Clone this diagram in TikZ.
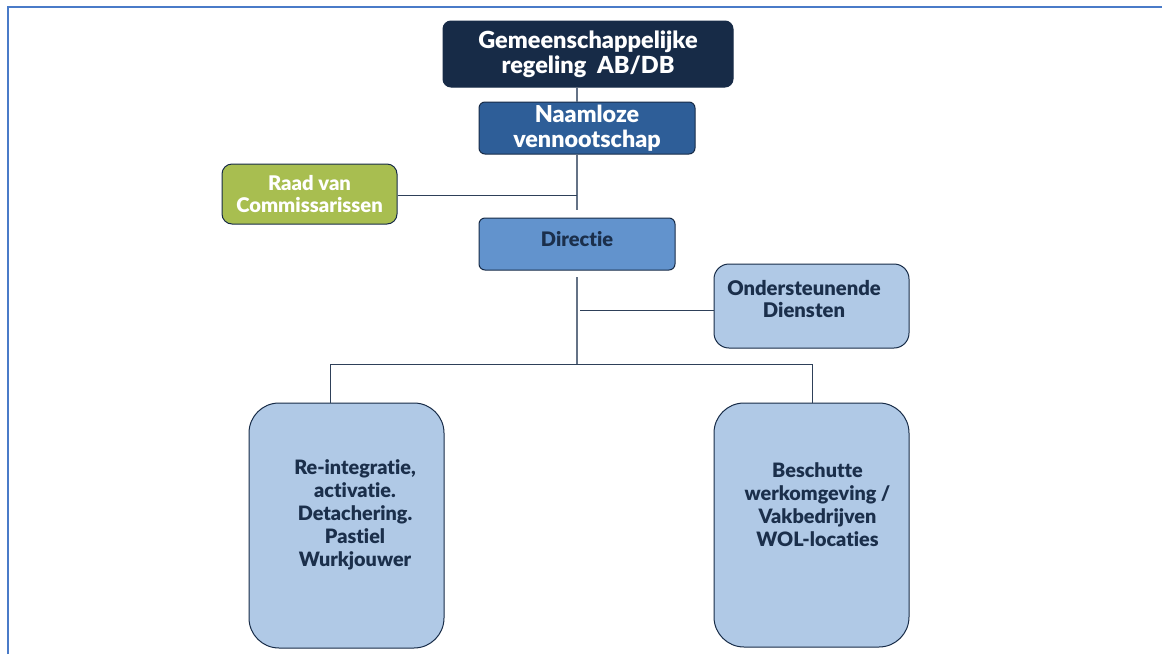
\documentclass[tikz,border=0pt]{standalone}
\usepackage{fontspec}
\setmainfont{Lato}[UprightFont=* Black,Ligatures={NoCommon}]
\usetikzlibrary{positioning}

\definecolor{navy}{RGB}{23,43,71}
\definecolor{midblue}{RGB}{46,94,152}
\definecolor{dirblue}{RGB}{98,147,205}
\definecolor{lightblue}{RGB}{176,201,230}
\definecolor{rvcgreen}{RGB}{168,190,80}
\definecolor{txtnavy}{RGB}{27,47,75}
\definecolor{framblue}{RGB}{74,123,200}
\definecolor{linegray}{RGB}{100,114,134}

\tikzset{
  box/.style={draw=navy,line width=1pt,align=center,inner sep=0pt},
  conn/.style={draw=linegray,line width=1.2pt},
  hconn/.style={draw=navy!90,line width=1pt},
}

\begin{document}
\begin{tikzpicture}[x=1pt,y=-1pt]
\useasboundingbox (0,0) rectangle (1162,654);

% frame
\draw[framblue,line width=2pt] (8,654) -- (8,7) -- (1162,7);

% boxes
\node[box,fill=navy,text=white,rounded corners=8pt,minimum width=290pt,minimum height=66pt,
  font=\fontsize{23.5}{25}\selectfont] (gr) at (588,54) {Gemeenschappelijke\\regeling\ \ AB/DB};
\node[box,fill=midblue,text=white,rounded corners=6pt,minimum width=216pt,minimum height=52pt,
  font=\fontsize{23.3}{25}\selectfont] (nv) at (587,128) {Naamloze\\vennootschap};
\node[box,fill=rvcgreen,text=white,rounded corners=10pt,minimum width=175pt,minimum height=60pt,
  font=\fontsize{20.2}{22}\selectfont] (rvc) at (309.5,194) {Raad van\\Commissarissen};
\node[box,fill=dirblue,rounded corners=6pt,minimum width=196pt,minimum height=52pt] (dir) at (577,244) {};
\node[text=txtnavy,font=\fontsize{20}{22}\selectfont] (dirtxt) at (577,239) {Directie};
\node[box,fill=lightblue,rounded corners=15pt,minimum width=195pt,minimum height=84pt] (ond) at (811.5,306) {};
\node[text=txtnavy,align=center,font=\fontsize{20.2}{22}\selectfont] (ondtxt) at (804,299) {Ondersteunende\\Diensten};
\node[box,fill=lightblue,rounded corners=30pt,minimum width=195pt,minimum height=245pt] (reint) at (346.5,525.5) {};
\node[text=txtnavy,align=center,font=\fontsize{19.8}{23}\selectfont] (reinttxt) at (355,515) {Re-integratie,\\activatie.\\Detachering.\\Pastiel\\Wurkjouwer};
\node[box,fill=lightblue,rounded corners=30pt,minimum width=195pt,minimum height=244pt] (besch) at (811.5,525) {};
\node[text=txtnavy,align=center,font=\fontsize{19.8}{23}\selectfont] (beschtxt) at (817.5,505) {Beschutte\\werkomgeving /\\Vakbedrijven\\WOL-locaties};

% connectors
\coordinate (j0) at (577,95);
\coordinate (j1) at (577,195);
\coordinate (j2) at (577,210);
\coordinate (j3) at (577,277);
\coordinate (j4) at (580,310);
\coordinate (bus) at (577,364);
\coordinate (busl) at (330,364);
\coordinate (busr) at (812,364);

\draw[conn] (gr.south -| j0) -- (nv.north -| j0);
\draw[conn] (nv.south -| j0) -- (j2);
\draw[hconn] (rvc.east |- j1) -- (j1);
\draw[conn] (j3) -- (bus);
\draw[hconn] (j4) -- (ond.west |- j4);
\draw[hconn] (busl) -- (busr);
\draw[hconn] (busl) -- (busl |- reint.north);
\draw[hconn] (busr) -- (busr |- besch.north);

\end{tikzpicture}
\end{document}
